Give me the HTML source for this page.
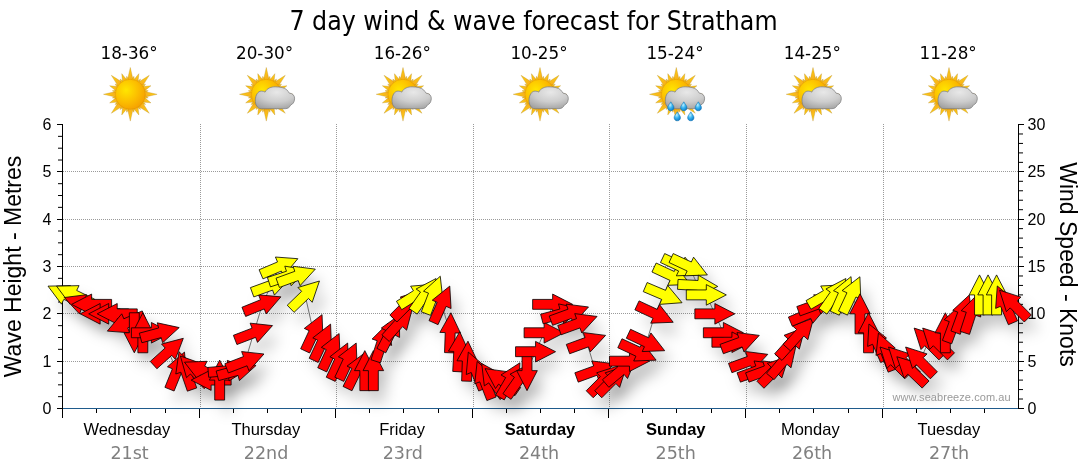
<!DOCTYPE html><html><head><meta charset="utf-8"><title>7 day wind &amp; wave forecast for Stratham</title>
<style>html,body{margin:0;padding:0;background:#fff;width:1080px;height:475px;overflow:hidden}svg{display:block}.t{font-family:"DejaVu Sans",sans-serif}.a{font-family:"Liberation Sans",Arial,sans-serif}</style></head><body>
<svg width="1080" height="475" viewBox="0 0 1080 475">
<defs>
<radialGradient id="sunG" cx="0.36" cy="0.36" r="0.78">
 <stop offset="0" stop-color="#ffe600"/><stop offset="0.5" stop-color="#fcbf00"/><stop offset="1" stop-color="#f39800"/>
</radialGradient>
<linearGradient id="rayG" x1="0" y1="0" x2="0.3" y2="1">
 <stop offset="0" stop-color="#ffd814"/><stop offset="1" stop-color="#f5a81c"/>
</linearGradient>
<radialGradient id="cloudG" cx="0.55" cy="0.25" r="0.8">
 <stop offset="0" stop-color="#e8e8e8"/><stop offset="0.55" stop-color="#cdcdcd"/><stop offset="1" stop-color="#a2a2a2"/>
</radialGradient>
<radialGradient id="dropG" cx="0.4" cy="0.35" r="0.7">
 <stop offset="0" stop-color="#bff0ff"/><stop offset="0.5" stop-color="#36b4f0"/><stop offset="1" stop-color="#0b78c8"/>
</radialGradient>
<filter id="shadow" x="-10%" y="-30%" width="120%" height="160%"><feGaussianBlur stdDeviation="7"/></filter>
</defs>
<g stroke="#9a9a9a" stroke-width="1" stroke-dasharray="1 1" fill="none"><line x1="63" y1="361.5" x2="1018" y2="361.5"/><line x1="63" y1="313.5" x2="1018" y2="313.5"/><line x1="63" y1="266.5" x2="1018" y2="266.5"/><line x1="63" y1="219.5" x2="1018" y2="219.5"/><line x1="63" y1="171.5" x2="1018" y2="171.5"/><line x1="200.5" y1="124" x2="200.5" y2="408"/><line x1="336.5" y1="124" x2="336.5" y2="408"/><line x1="473.5" y1="124" x2="473.5" y2="408"/><line x1="609.5" y1="124" x2="609.5" y2="408"/><line x1="746.5" y1="124" x2="746.5" y2="408"/><line x1="883.5" y1="124" x2="883.5" y2="408"/></g>
<g stroke-width="1"><line x1="62.5" y1="124" x2="62.5" y2="418" stroke="#000"/><line x1="1018.5" y1="124" x2="1018.5" y2="409" stroke="#000"/><line x1="63" y1="408.5" x2="1018" y2="408.5" stroke="#1f5b8c"/><line x1="57" y1="408.5" x2="62" y2="408.5" stroke="#000"/><line x1="58" y1="396.67" x2="62" y2="396.67" stroke="#000"/><line x1="58" y1="384.83" x2="62" y2="384.83" stroke="#000"/><line x1="58" y1="373.0" x2="62" y2="373.0" stroke="#000"/><line x1="57" y1="361.5" x2="62" y2="361.5" stroke="#000"/><line x1="58" y1="349.34" x2="62" y2="349.34" stroke="#000"/><line x1="58" y1="337.5" x2="62" y2="337.5" stroke="#000"/><line x1="58" y1="325.67" x2="62" y2="325.67" stroke="#000"/><line x1="57" y1="313.5" x2="62" y2="313.5" stroke="#000"/><line x1="58" y1="302.01" x2="62" y2="302.01" stroke="#000"/><line x1="58" y1="290.18" x2="62" y2="290.18" stroke="#000"/><line x1="58" y1="278.34" x2="62" y2="278.34" stroke="#000"/><line x1="57" y1="266.5" x2="62" y2="266.5" stroke="#000"/><line x1="58" y1="254.68" x2="62" y2="254.68" stroke="#000"/><line x1="58" y1="242.84" x2="62" y2="242.84" stroke="#000"/><line x1="58" y1="231.01" x2="62" y2="231.01" stroke="#000"/><line x1="57" y1="219.5" x2="62" y2="219.5" stroke="#000"/><line x1="58" y1="207.35" x2="62" y2="207.35" stroke="#000"/><line x1="58" y1="195.52" x2="62" y2="195.52" stroke="#000"/><line x1="58" y1="183.68" x2="62" y2="183.68" stroke="#000"/><line x1="57" y1="171.5" x2="62" y2="171.5" stroke="#000"/><line x1="58" y1="160.02" x2="62" y2="160.02" stroke="#000"/><line x1="58" y1="148.19" x2="62" y2="148.19" stroke="#000"/><line x1="58" y1="136.35" x2="62" y2="136.35" stroke="#000"/><line x1="57" y1="124.5" x2="62" y2="124.5" stroke="#000"/><line x1="1019" y1="408.5" x2="1024" y2="408.5" stroke="#000"/><line x1="1019" y1="399.03" x2="1023" y2="399.03" stroke="#000"/><line x1="1019" y1="389.57" x2="1023" y2="389.57" stroke="#000"/><line x1="1019" y1="380.1" x2="1023" y2="380.1" stroke="#000"/><line x1="1019" y1="370.63" x2="1023" y2="370.63" stroke="#000"/><line x1="1019" y1="361.5" x2="1024" y2="361.5" stroke="#000"/><line x1="1019" y1="351.7" x2="1023" y2="351.7" stroke="#000"/><line x1="1019" y1="342.23" x2="1023" y2="342.23" stroke="#000"/><line x1="1019" y1="332.77" x2="1023" y2="332.77" stroke="#000"/><line x1="1019" y1="323.3" x2="1023" y2="323.3" stroke="#000"/><line x1="1019" y1="313.5" x2="1024" y2="313.5" stroke="#000"/><line x1="1019" y1="304.37" x2="1023" y2="304.37" stroke="#000"/><line x1="1019" y1="294.9" x2="1023" y2="294.9" stroke="#000"/><line x1="1019" y1="285.43" x2="1023" y2="285.43" stroke="#000"/><line x1="1019" y1="275.97" x2="1023" y2="275.97" stroke="#000"/><line x1="1019" y1="266.5" x2="1024" y2="266.5" stroke="#000"/><line x1="1019" y1="257.03" x2="1023" y2="257.03" stroke="#000"/><line x1="1019" y1="247.57" x2="1023" y2="247.57" stroke="#000"/><line x1="1019" y1="238.1" x2="1023" y2="238.1" stroke="#000"/><line x1="1019" y1="228.63" x2="1023" y2="228.63" stroke="#000"/><line x1="1019" y1="219.5" x2="1024" y2="219.5" stroke="#000"/><line x1="1019" y1="209.7" x2="1023" y2="209.7" stroke="#000"/><line x1="1019" y1="200.23" x2="1023" y2="200.23" stroke="#000"/><line x1="1019" y1="190.77" x2="1023" y2="190.77" stroke="#000"/><line x1="1019" y1="181.3" x2="1023" y2="181.3" stroke="#000"/><line x1="1019" y1="171.5" x2="1024" y2="171.5" stroke="#000"/><line x1="1019" y1="162.37" x2="1023" y2="162.37" stroke="#000"/><line x1="1019" y1="152.9" x2="1023" y2="152.9" stroke="#000"/><line x1="1019" y1="143.43" x2="1023" y2="143.43" stroke="#000"/><line x1="1019" y1="133.97" x2="1023" y2="133.97" stroke="#000"/><line x1="1019" y1="124.5" x2="1024" y2="124.5" stroke="#000"/><line x1="96.5" y1="409" x2="96.5" y2="413" stroke="#000"/><line x1="130.5" y1="409" x2="130.5" y2="413" stroke="#000"/><line x1="165.5" y1="409" x2="165.5" y2="413" stroke="#000"/><line x1="199.5" y1="409" x2="199.5" y2="418" stroke="#000"/><line x1="233.5" y1="409" x2="233.5" y2="413" stroke="#000"/><line x1="267.5" y1="409" x2="267.5" y2="413" stroke="#000"/><line x1="301.5" y1="409" x2="301.5" y2="413" stroke="#000"/><line x1="335.5" y1="409" x2="335.5" y2="418" stroke="#000"/><line x1="369.5" y1="409" x2="369.5" y2="413" stroke="#000"/><line x1="403.5" y1="409" x2="403.5" y2="413" stroke="#000"/><line x1="438.5" y1="409" x2="438.5" y2="413" stroke="#000"/><line x1="472.5" y1="409" x2="472.5" y2="418" stroke="#000"/><line x1="506.5" y1="409" x2="506.5" y2="413" stroke="#000"/><line x1="540.5" y1="409" x2="540.5" y2="413" stroke="#000"/><line x1="574.5" y1="409" x2="574.5" y2="413" stroke="#000"/><line x1="608.5" y1="409" x2="608.5" y2="418" stroke="#000"/><line x1="642.5" y1="409" x2="642.5" y2="413" stroke="#000"/><line x1="676.5" y1="409" x2="676.5" y2="413" stroke="#000"/><line x1="711.5" y1="409" x2="711.5" y2="413" stroke="#000"/><line x1="745.5" y1="409" x2="745.5" y2="418" stroke="#000"/><line x1="779.5" y1="409" x2="779.5" y2="413" stroke="#000"/><line x1="813.5" y1="409" x2="813.5" y2="413" stroke="#000"/><line x1="848.5" y1="409" x2="848.5" y2="413" stroke="#000"/><line x1="882.5" y1="409" x2="882.5" y2="418" stroke="#000"/><line x1="916.5" y1="409" x2="916.5" y2="413" stroke="#000"/><line x1="950.5" y1="409" x2="950.5" y2="413" stroke="#000"/><line x1="984.5" y1="409" x2="984.5" y2="413" stroke="#000"/></g>
<g filter="url(#shadow)" transform="translate(8,12)" fill="#000" fill-opacity="0.17"><polygon points="81.81,308.12 63.83,299.35 61.48,304.16 48.02,286.13 70.52,285.64 68.17,290.45 86.15,299.22"/><polygon points="90.34,308.12 72.37,299.35 70.02,304.16 56.56,286.13 79.05,285.64 76.71,290.45 94.68,299.22"/><polygon points="100.18,315.86 81.38,309.02 79.55,314.05 64.28,297.53 86.60,294.69 84.77,299.72 103.56,306.56"/><polygon points="111.61,309.32 91.61,309.32 91.61,314.67 71.61,304.37 91.61,294.07 91.61,299.42 111.61,299.42"/><polygon points="120.15,318.78 100.15,318.78 100.15,324.13 80.15,313.83 100.15,303.53 100.15,308.88 120.15,308.88"/><polygon points="128.69,318.78 108.69,318.78 108.69,324.13 88.69,313.83 108.69,303.53 108.69,308.88 128.69,308.88"/><polygon points="137.22,318.78 117.22,318.78 117.22,324.13 97.22,313.83 117.22,303.53 117.22,308.88 137.22,308.88"/><polygon points="146.11,320.04 127.70,327.86 129.79,332.78 107.35,331.11 121.74,313.82 123.83,318.74 142.24,310.93"/><polygon points="139.25,312.77 139.25,332.77 144.60,332.77 134.30,352.77 124.00,332.77 129.35,332.77 129.35,312.77"/><polygon points="137.89,352.77 137.89,332.77 132.54,332.77 142.84,312.77 153.14,332.77 147.79,332.77 147.79,352.77"/><polygon points="131.38,327.82 151.38,327.82 151.38,322.47 171.38,332.77 151.38,343.07 151.38,337.72 131.38,337.72"/><polygon points="139.31,333.16 158.63,327.99 157.25,322.82 179.23,327.59 162.58,342.72 161.19,337.55 141.88,342.72"/><polygon points="150.27,361.40 165.14,348.02 161.56,344.05 183.31,338.32 175.34,359.35 171.76,355.38 156.90,368.76"/><polygon points="164.91,387.32 172.40,368.78 167.44,366.77 184.48,352.09 186.54,374.49 181.58,372.49 174.08,391.03"/><polygon points="187.36,391.16 180.84,372.24 175.79,373.99 179.01,351.72 195.26,367.28 190.21,369.02 196.72,387.93"/><polygon points="204.08,388.64 190.44,374.01 186.53,377.66 180.42,356.01 201.60,363.61 197.68,367.26 211.32,381.88"/><polygon points="218.63,383.57 200.51,375.12 198.25,379.97 184.47,362.18 206.95,361.30 204.69,366.15 222.82,374.60"/><polygon points="231.14,385.05 211.14,385.05 211.14,390.40 191.14,380.10 211.14,369.80 211.14,375.15 231.14,375.15"/><polygon points="214.72,400.10 214.72,380.10 209.37,380.10 219.67,360.10 229.97,380.10 224.62,380.10 224.62,400.10"/><polygon points="207.86,367.45 227.78,365.70 227.31,360.37 248.14,368.89 229.11,380.89 228.64,375.56 208.72,377.31"/><polygon points="216.15,371.03 235.47,365.85 234.08,360.68 256.07,365.46 239.42,380.58 238.03,375.41 218.71,380.59"/><polygon points="224.84,363.71 243.51,356.55 241.60,351.55 263.96,354.00 248.98,370.78 247.06,365.79 228.39,372.96"/><polygon points="233.38,335.31 252.05,328.15 250.13,323.15 272.50,325.60 257.52,342.38 255.60,337.39 236.93,344.56"/><polygon points="241.96,307.27 260.51,299.78 258.50,294.82 280.91,296.87 266.22,313.92 264.22,308.96 245.67,316.45"/><polygon points="250.41,287.62 269.21,280.78 267.38,275.75 289.69,278.59 274.42,295.11 272.59,290.08 253.80,296.93"/><polygon points="259.09,269.76 277.50,261.94 275.41,257.02 297.85,258.69 283.46,275.98 281.37,271.06 262.96,278.87"/><polygon points="267.42,277.44 286.45,271.26 284.79,266.17 307.00,269.79 291.16,285.76 289.50,280.67 270.48,286.85"/><polygon points="276.03,278.16 294.82,271.32 292.99,266.29 315.31,269.13 300.04,285.65 298.21,280.62 279.41,287.46"/><polygon points="287.22,305.23 301.61,291.34 297.90,287.49 319.44,281.01 312.20,302.31 308.49,298.46 294.10,312.35"/><polygon points="300.65,348.80 309.10,330.67 304.25,328.41 322.04,314.64 322.92,337.12 318.07,334.86 309.62,352.98"/><polygon points="309.19,358.27 317.64,340.14 312.79,337.88 330.58,324.11 331.46,346.59 326.61,344.33 318.16,362.45"/><polygon points="317.72,367.73 326.18,349.61 321.33,347.35 339.11,333.57 340.00,356.05 335.15,353.79 326.70,371.92"/><polygon points="326.26,377.20 334.71,359.07 329.87,356.81 347.65,343.04 348.53,365.52 343.69,363.26 335.23,381.38"/><polygon points="334.80,377.20 343.25,359.07 338.40,356.81 356.19,343.04 357.07,365.52 352.22,363.26 343.77,381.38"/><polygon points="343.06,386.44 351.83,368.46 347.02,366.12 365.04,352.66 365.53,375.15 360.72,372.80 351.96,390.78"/><polygon points="359.86,390.63 359.86,370.63 354.51,370.63 364.81,350.63 375.11,370.63 369.76,370.63 369.76,390.63"/><polygon points="368.40,390.63 368.40,370.63 363.05,370.63 373.35,350.63 383.65,370.63 378.30,370.63 378.30,390.63"/><polygon points="371.00,359.72 377.18,340.70 372.09,339.05 388.07,323.21 391.68,345.42 386.60,343.76 380.41,362.78"/><polygon points="376.93,348.34 386.01,330.52 381.25,328.09 399.50,314.95 399.60,337.44 394.84,335.01 385.76,352.83"/><polygon points="381.90,334.85 395.28,319.99 391.31,316.41 412.35,308.44 406.62,330.19 402.64,326.61 389.26,341.48"/><polygon points="389.86,315.01 404.00,300.87 400.22,297.08 421.64,290.22 414.78,311.65 411.00,307.87 396.86,322.01"/><polygon points="396.45,301.30 413.41,290.70 410.58,286.17 433.00,284.30 421.50,303.63 418.66,299.10 401.70,309.70"/><polygon points="409.05,308.44 420.52,292.06 416.14,288.99 436.05,278.52 433.01,300.81 428.63,297.74 417.16,314.12"/><polygon points="421.32,311.80 428.49,293.13 423.50,291.21 440.28,276.23 442.73,298.59 437.73,296.67 430.57,315.35"/><polygon points="428.99,320.62 437.13,302.35 432.24,300.18 449.78,286.10 451.06,308.56 446.17,306.38 438.04,324.65"/><polygon points="444.54,352.58 445.24,332.59 439.89,332.41 450.89,312.78 460.48,333.13 455.13,332.94 454.44,352.93"/><polygon points="452.74,371.41 453.78,351.44 448.44,351.16 459.77,331.73 469.01,352.24 463.67,351.96 462.62,371.93"/><polygon points="461.62,380.98 462.32,360.99 456.97,360.81 467.96,341.18 477.56,361.53 472.21,361.34 471.51,381.33"/><polygon points="478.70,391.03 471.21,372.49 466.25,374.49 468.31,352.09 485.35,366.77 480.39,368.78 487.88,387.32"/><polygon points="486.88,400.55 479.72,381.87 474.72,383.79 477.17,361.43 493.95,376.41 488.96,378.33 496.13,397.00"/><polygon points="499.96,399.45 488.77,382.87 484.34,385.86 481.69,363.52 501.41,374.34 496.98,377.33 508.16,393.91"/><polygon points="514.96,395.63 498.57,384.15 495.50,388.54 485.03,368.63 507.32,371.66 504.25,376.05 520.63,387.52"/><polygon points="495.66,394.95 505.66,377.62 501.03,374.95 519.95,362.78 518.87,385.25 514.24,382.58 504.24,399.90"/><polygon points="502.96,393.64 514.43,377.26 510.05,374.19 529.96,363.72 526.92,386.01 522.54,382.94 511.07,399.32"/><polygon points="531.98,350.63 531.98,370.63 537.32,370.63 527.02,390.63 516.73,370.63 522.07,370.63 522.07,350.63"/><polygon points="515.56,346.75 535.56,346.75 535.56,341.40 555.56,351.70 535.56,362.00 535.56,356.65 515.56,356.65"/><polygon points="524.10,327.82 544.10,327.82 544.10,322.47 564.10,332.77 544.10,343.07 544.10,337.72 524.10,337.72"/><polygon points="532.64,299.42 552.64,299.42 552.64,294.07 572.64,304.37 552.64,314.67 552.64,309.32 532.64,309.32"/><polygon points="540.58,314.23 559.89,309.05 558.51,303.88 580.49,308.66 563.84,323.78 562.46,318.61 543.14,323.79"/><polygon points="549.23,316.02 568.02,309.18 566.19,304.15 588.51,306.99 573.24,323.51 571.41,318.48 552.61,325.33"/><polygon points="557.76,325.49 576.56,318.65 574.73,313.62 597.04,316.46 581.77,332.98 579.94,327.95 561.15,334.79"/><polygon points="566.30,344.42 585.09,337.58 583.26,332.55 605.58,335.39 590.31,351.91 588.48,346.88 569.69,353.73"/><polygon points="574.84,372.82 593.63,365.98 591.80,360.95 614.12,363.79 598.85,380.31 597.02,375.28 578.22,382.13"/><polygon points="586.22,390.74 600.36,376.60 596.58,372.82 618.00,365.96 611.15,387.38 607.36,383.60 593.22,397.74"/><polygon points="594.76,390.74 608.90,376.60 605.12,372.82 626.54,365.96 619.68,387.38 615.90,383.60 601.76,397.74"/><polygon points="602.43,379.70 617.76,366.84 614.32,362.74 636.26,357.78 627.56,378.52 624.12,374.43 608.80,387.28"/><polygon points="609.48,356.22 629.48,356.22 629.48,350.87 649.48,361.17 629.48,371.47 629.48,366.12 609.48,366.12"/><polygon points="621.98,338.76 640.10,347.21 642.37,342.37 656.14,360.15 633.66,361.03 635.92,356.19 617.79,347.73"/><polygon points="630.52,329.29 648.64,337.75 650.90,332.90 664.68,350.69 642.20,351.57 644.46,346.72 626.33,338.27"/><polygon points="639.05,300.89 657.18,309.35 659.44,304.50 673.21,322.29 650.73,323.17 653.00,318.32 634.87,309.87"/><polygon points="647.15,282.53 665.56,290.34 667.65,285.42 682.04,302.71 659.60,304.38 661.69,299.46 643.28,291.64"/><polygon points="656.13,263.03 674.25,271.48 676.52,266.63 690.29,284.42 667.81,285.30 670.07,280.45 651.94,272.00"/><polygon points="664.67,253.56 682.79,262.01 685.05,257.17 698.83,274.95 676.35,275.83 678.61,270.99 660.48,262.53"/><polygon points="673.20,253.56 691.33,262.01 693.59,257.17 707.36,274.95 684.88,275.83 687.15,270.99 669.02,262.53"/><polygon points="678.06,279.44 698.03,280.49 698.31,275.15 717.75,286.48 697.24,295.72 697.52,290.38 677.54,289.33"/><polygon points="686.31,289.95 706.31,289.95 706.31,284.60 726.31,294.90 706.31,305.20 706.31,299.85 686.31,299.85"/><polygon points="694.85,308.88 714.85,308.88 714.85,303.53 734.85,313.83 714.85,324.13 714.85,318.78 694.85,318.78"/><polygon points="703.39,327.82 723.39,327.82 723.39,322.47 743.39,332.77 723.39,343.07 723.39,337.72 703.39,337.72"/><polygon points="711.92,337.28 731.92,337.28 731.92,331.93 751.92,342.23 731.92,352.53 731.92,347.18 711.92,347.18"/><polygon points="719.98,344.42 738.77,337.58 736.94,332.55 759.26,335.39 743.99,351.91 742.16,346.88 723.36,353.73"/><polygon points="728.51,363.36 747.31,356.52 745.48,351.49 767.79,354.33 752.52,370.85 750.69,365.82 731.90,372.66"/><polygon points="737.05,372.82 755.84,365.98 754.01,360.95 776.33,363.79 761.06,380.31 759.23,375.28 740.44,382.13"/><polygon points="745.59,372.82 764.38,365.98 762.55,360.95 784.87,363.79 769.60,380.31 767.77,375.28 748.97,382.13"/><polygon points="756.97,381.28 771.11,367.13 767.33,363.35 788.75,356.49 781.90,377.92 778.11,374.13 763.97,388.28"/><polygon points="766.50,373.31 779.36,357.98 775.26,354.55 796.01,345.85 791.04,367.79 786.94,364.35 774.09,379.67"/><polygon points="774.63,353.78 788.01,338.92 784.03,335.34 805.07,327.37 799.34,349.13 795.37,345.55 781.98,360.41"/><polygon points="783.16,344.32 796.55,329.45 792.57,325.87 813.61,317.90 807.88,339.66 803.90,336.08 790.52,350.94"/><polygon points="788.42,317.09 806.83,309.28 804.74,304.35 827.17,306.02 812.79,323.31 810.70,318.39 792.29,326.20"/><polygon points="796.81,306.56 815.61,299.72 813.78,294.69 836.09,297.53 820.82,314.05 818.99,309.02 800.20,315.86"/><polygon points="806.04,300.61 823.36,290.61 820.69,285.98 843.16,284.90 830.99,303.82 828.31,299.19 810.99,309.19"/><polygon points="818.85,308.44 830.32,292.06 825.94,288.99 845.85,278.52 842.81,300.81 838.43,297.74 826.96,314.12"/><polygon points="830.26,311.16 838.39,292.89 833.50,290.71 851.05,276.63 852.32,299.09 847.43,296.91 839.30,315.18"/><polygon points="838.51,310.93 846.96,292.81 842.12,290.55 859.90,276.77 860.78,299.25 855.94,296.99 847.48,315.12"/><polygon points="855.04,333.83 855.04,313.83 849.69,313.83 859.99,293.83 870.29,313.83 864.94,313.83 864.94,333.83"/><polygon points="863.57,352.77 863.57,332.77 858.23,332.77 868.52,312.77 878.82,332.77 873.48,332.77 873.48,352.77"/><polygon points="880.68,362.52 872.54,344.25 867.65,346.42 868.93,323.96 886.47,338.04 881.58,340.22 889.72,358.49"/><polygon points="888.15,372.15 880.98,353.47 875.98,355.39 878.43,333.03 895.22,348.01 890.22,349.93 897.39,368.60"/><polygon points="904.78,378.81 890.64,364.67 886.85,368.45 880.00,347.02 901.42,353.88 897.64,357.67 911.78,371.81"/><polygon points="913.32,378.81 899.17,364.67 895.39,368.45 888.53,347.02 909.96,353.88 906.18,357.67 920.32,371.81"/><polygon points="922.16,388.09 907.77,374.19 904.06,378.04 896.83,356.74 918.37,363.22 914.65,367.07 929.04,380.97"/><polygon points="930.39,378.81 916.25,364.67 912.47,368.45 905.61,347.02 927.03,353.88 923.25,357.67 937.39,371.81"/><polygon points="938.93,359.88 924.79,345.73 921.00,349.52 914.15,328.09 935.57,334.95 931.79,338.73 945.93,352.88"/><polygon points="947.47,359.88 933.32,345.73 929.54,349.52 922.68,328.09 944.11,334.95 940.33,338.73 954.47,352.88"/><polygon points="940.41,352.77 940.41,332.77 935.06,332.77 945.36,312.77 955.66,332.77 950.31,332.77 950.31,352.77"/><polygon points="942.41,340.40 949.25,321.61 944.22,319.78 960.74,304.51 963.58,326.82 958.55,324.99 951.71,343.79"/><polygon points="950.95,330.93 957.79,312.14 952.76,310.31 969.28,295.04 972.12,317.36 967.09,315.53 960.25,334.32"/><polygon points="960.09,331.32 966.27,312.30 961.18,310.65 977.16,294.81 980.77,317.02 975.68,315.36 969.50,334.38"/><polygon points="974.56,314.90 974.56,294.90 969.21,294.90 979.51,274.90 989.81,294.90 984.46,294.90 984.46,314.90"/><polygon points="983.10,314.90 983.10,294.90 977.75,294.90 988.05,274.90 998.35,294.90 993.00,294.90 993.00,314.90"/><polygon points="991.64,314.90 991.64,294.90 986.29,294.90 996.59,274.90 1006.89,294.90 1001.54,294.90 1001.54,314.90"/><polygon points="1008.38,324.71 1000.57,306.30 995.64,308.39 997.31,285.96 1014.61,300.34 1009.68,302.43 1017.50,320.84"/><polygon points="1024.30,322.01 1010.16,307.87 1006.38,311.65 999.52,290.22 1020.95,297.08 1017.16,300.87 1031.30,315.01"/></g>
<polyline fill="none" stroke="#707070" stroke-width="1" points="66.00,294.90 74.54,294.90 83.08,304.37 91.61,304.37 100.15,313.83 108.69,313.83 117.22,313.83 125.76,323.30 134.30,332.77 142.84,332.77 151.38,332.77 159.91,332.77 168.45,351.70 176.99,370.63 185.52,370.63 194.06,370.63 202.60,370.63 211.14,380.10 219.67,380.10 228.21,370.63 236.75,370.63 245.29,361.17 253.82,332.77 262.36,304.37 270.90,285.43 279.44,266.50 287.98,275.97 296.51,275.97 305.05,294.90 313.59,332.77 322.12,342.23 330.66,351.70 339.20,361.17 347.74,361.17 356.27,370.63 364.81,370.63 373.35,370.63 381.89,342.23 390.43,332.77 398.96,323.30 407.50,304.37 416.04,294.90 424.57,294.90 433.11,294.90 441.65,304.37 450.19,332.77 458.72,351.70 467.26,361.17 475.80,370.63 484.34,380.10 492.88,380.10 501.41,380.10 509.95,380.10 518.49,380.10 527.02,370.63 535.56,351.70 544.10,332.77 552.64,304.37 561.17,313.83 569.71,313.83 578.25,323.30 586.79,342.23 595.32,370.63 603.86,380.10 612.40,380.10 620.94,370.63 629.48,361.17 638.01,351.70 646.55,342.23 655.09,313.83 663.62,294.90 672.16,275.97 680.70,266.50 689.24,266.50 697.77,285.43 706.31,294.90 714.85,313.83 723.39,332.77 731.92,342.23 740.46,342.23 749.00,361.17 757.54,370.63 766.07,370.63 774.61,370.63 783.15,361.17 791.69,342.23 800.23,332.77 808.76,313.83 817.30,304.37 825.84,294.90 834.38,294.90 842.91,294.90 851.45,294.90 859.99,313.83 868.52,332.77 877.06,342.23 885.60,351.70 894.14,361.17 902.67,361.17 911.21,370.63 919.75,361.17 928.29,342.23 936.82,342.23 945.36,332.77 953.90,323.30 962.44,313.83 970.97,313.83 979.51,294.90 988.05,294.90 996.59,294.90 1005.12,304.37 1013.66,304.37"/>
<g stroke="#000" stroke-width="0.8" stroke-linejoin="miter"><polygon points="81.81,308.12 63.83,299.35 61.48,304.16 48.02,286.13 70.52,285.64 68.17,290.45 86.15,299.22" fill="#ffff00"/><polygon points="90.34,308.12 72.37,299.35 70.02,304.16 56.56,286.13 79.05,285.64 76.71,290.45 94.68,299.22" fill="#ffff00"/><polygon points="100.18,315.86 81.38,309.02 79.55,314.05 64.28,297.53 86.60,294.69 84.77,299.72 103.56,306.56" fill="#ff0000"/><polygon points="111.61,309.32 91.61,309.32 91.61,314.67 71.61,304.37 91.61,294.07 91.61,299.42 111.61,299.42" fill="#ff0000"/><polygon points="120.15,318.78 100.15,318.78 100.15,324.13 80.15,313.83 100.15,303.53 100.15,308.88 120.15,308.88" fill="#ff0000"/><polygon points="128.69,318.78 108.69,318.78 108.69,324.13 88.69,313.83 108.69,303.53 108.69,308.88 128.69,308.88" fill="#ff0000"/><polygon points="137.22,318.78 117.22,318.78 117.22,324.13 97.22,313.83 117.22,303.53 117.22,308.88 137.22,308.88" fill="#ff0000"/><polygon points="146.11,320.04 127.70,327.86 129.79,332.78 107.35,331.11 121.74,313.82 123.83,318.74 142.24,310.93" fill="#ff0000"/><polygon points="139.25,312.77 139.25,332.77 144.60,332.77 134.30,352.77 124.00,332.77 129.35,332.77 129.35,312.77" fill="#ff0000"/><polygon points="137.89,352.77 137.89,332.77 132.54,332.77 142.84,312.77 153.14,332.77 147.79,332.77 147.79,352.77" fill="#ff0000"/><polygon points="131.38,327.82 151.38,327.82 151.38,322.47 171.38,332.77 151.38,343.07 151.38,337.72 131.38,337.72" fill="#ff0000"/><polygon points="139.31,333.16 158.63,327.99 157.25,322.82 179.23,327.59 162.58,342.72 161.19,337.55 141.88,342.72" fill="#ff0000"/><polygon points="150.27,361.40 165.14,348.02 161.56,344.05 183.31,338.32 175.34,359.35 171.76,355.38 156.90,368.76" fill="#ff0000"/><polygon points="164.91,387.32 172.40,368.78 167.44,366.77 184.48,352.09 186.54,374.49 181.58,372.49 174.08,391.03" fill="#ff0000"/><polygon points="187.36,391.16 180.84,372.24 175.79,373.99 179.01,351.72 195.26,367.28 190.21,369.02 196.72,387.93" fill="#ff0000"/><polygon points="204.08,388.64 190.44,374.01 186.53,377.66 180.42,356.01 201.60,363.61 197.68,367.26 211.32,381.88" fill="#ff0000"/><polygon points="218.63,383.57 200.51,375.12 198.25,379.97 184.47,362.18 206.95,361.30 204.69,366.15 222.82,374.60" fill="#ff0000"/><polygon points="231.14,385.05 211.14,385.05 211.14,390.40 191.14,380.10 211.14,369.80 211.14,375.15 231.14,375.15" fill="#ff0000"/><polygon points="214.72,400.10 214.72,380.10 209.37,380.10 219.67,360.10 229.97,380.10 224.62,380.10 224.62,400.10" fill="#ff0000"/><polygon points="207.86,367.45 227.78,365.70 227.31,360.37 248.14,368.89 229.11,380.89 228.64,375.56 208.72,377.31" fill="#ff0000"/><polygon points="216.15,371.03 235.47,365.85 234.08,360.68 256.07,365.46 239.42,380.58 238.03,375.41 218.71,380.59" fill="#ff0000"/><polygon points="224.84,363.71 243.51,356.55 241.60,351.55 263.96,354.00 248.98,370.78 247.06,365.79 228.39,372.96" fill="#ff0000"/><polygon points="233.38,335.31 252.05,328.15 250.13,323.15 272.50,325.60 257.52,342.38 255.60,337.39 236.93,344.56" fill="#ff0000"/><polygon points="241.96,307.27 260.51,299.78 258.50,294.82 280.91,296.87 266.22,313.92 264.22,308.96 245.67,316.45" fill="#ff0000"/><polygon points="250.41,287.62 269.21,280.78 267.38,275.75 289.69,278.59 274.42,295.11 272.59,290.08 253.80,296.93" fill="#ffff00"/><polygon points="259.09,269.76 277.50,261.94 275.41,257.02 297.85,258.69 283.46,275.98 281.37,271.06 262.96,278.87" fill="#ffff00"/><polygon points="267.42,277.44 286.45,271.26 284.79,266.17 307.00,269.79 291.16,285.76 289.50,280.67 270.48,286.85" fill="#ffff00"/><polygon points="276.03,278.16 294.82,271.32 292.99,266.29 315.31,269.13 300.04,285.65 298.21,280.62 279.41,287.46" fill="#ffff00"/><polygon points="287.22,305.23 301.61,291.34 297.90,287.49 319.44,281.01 312.20,302.31 308.49,298.46 294.10,312.35" fill="#ffff00"/><polygon points="300.65,348.80 309.10,330.67 304.25,328.41 322.04,314.64 322.92,337.12 318.07,334.86 309.62,352.98" fill="#ff0000"/><polygon points="309.19,358.27 317.64,340.14 312.79,337.88 330.58,324.11 331.46,346.59 326.61,344.33 318.16,362.45" fill="#ff0000"/><polygon points="317.72,367.73 326.18,349.61 321.33,347.35 339.11,333.57 340.00,356.05 335.15,353.79 326.70,371.92" fill="#ff0000"/><polygon points="326.26,377.20 334.71,359.07 329.87,356.81 347.65,343.04 348.53,365.52 343.69,363.26 335.23,381.38" fill="#ff0000"/><polygon points="334.80,377.20 343.25,359.07 338.40,356.81 356.19,343.04 357.07,365.52 352.22,363.26 343.77,381.38" fill="#ff0000"/><polygon points="343.06,386.44 351.83,368.46 347.02,366.12 365.04,352.66 365.53,375.15 360.72,372.80 351.96,390.78" fill="#ff0000"/><polygon points="359.86,390.63 359.86,370.63 354.51,370.63 364.81,350.63 375.11,370.63 369.76,370.63 369.76,390.63" fill="#ff0000"/><polygon points="368.40,390.63 368.40,370.63 363.05,370.63 373.35,350.63 383.65,370.63 378.30,370.63 378.30,390.63" fill="#ff0000"/><polygon points="371.00,359.72 377.18,340.70 372.09,339.05 388.07,323.21 391.68,345.42 386.60,343.76 380.41,362.78" fill="#ff0000"/><polygon points="376.93,348.34 386.01,330.52 381.25,328.09 399.50,314.95 399.60,337.44 394.84,335.01 385.76,352.83" fill="#ff0000"/><polygon points="381.90,334.85 395.28,319.99 391.31,316.41 412.35,308.44 406.62,330.19 402.64,326.61 389.26,341.48" fill="#ff0000"/><polygon points="389.86,315.01 404.00,300.87 400.22,297.08 421.64,290.22 414.78,311.65 411.00,307.87 396.86,322.01" fill="#ff0000"/><polygon points="396.45,301.30 413.41,290.70 410.58,286.17 433.00,284.30 421.50,303.63 418.66,299.10 401.70,309.70" fill="#ffff00"/><polygon points="409.05,308.44 420.52,292.06 416.14,288.99 436.05,278.52 433.01,300.81 428.63,297.74 417.16,314.12" fill="#ffff00"/><polygon points="421.32,311.80 428.49,293.13 423.50,291.21 440.28,276.23 442.73,298.59 437.73,296.67 430.57,315.35" fill="#ffff00"/><polygon points="428.99,320.62 437.13,302.35 432.24,300.18 449.78,286.10 451.06,308.56 446.17,306.38 438.04,324.65" fill="#ff0000"/><polygon points="444.54,352.58 445.24,332.59 439.89,332.41 450.89,312.78 460.48,333.13 455.13,332.94 454.44,352.93" fill="#ff0000"/><polygon points="452.74,371.41 453.78,351.44 448.44,351.16 459.77,331.73 469.01,352.24 463.67,351.96 462.62,371.93" fill="#ff0000"/><polygon points="461.62,380.98 462.32,360.99 456.97,360.81 467.96,341.18 477.56,361.53 472.21,361.34 471.51,381.33" fill="#ff0000"/><polygon points="478.70,391.03 471.21,372.49 466.25,374.49 468.31,352.09 485.35,366.77 480.39,368.78 487.88,387.32" fill="#ff0000"/><polygon points="486.88,400.55 479.72,381.87 474.72,383.79 477.17,361.43 493.95,376.41 488.96,378.33 496.13,397.00" fill="#ff0000"/><polygon points="499.96,399.45 488.77,382.87 484.34,385.86 481.69,363.52 501.41,374.34 496.98,377.33 508.16,393.91" fill="#ff0000"/><polygon points="514.96,395.63 498.57,384.15 495.50,388.54 485.03,368.63 507.32,371.66 504.25,376.05 520.63,387.52" fill="#ff0000"/><polygon points="495.66,394.95 505.66,377.62 501.03,374.95 519.95,362.78 518.87,385.25 514.24,382.58 504.24,399.90" fill="#ff0000"/><polygon points="502.96,393.64 514.43,377.26 510.05,374.19 529.96,363.72 526.92,386.01 522.54,382.94 511.07,399.32" fill="#ff0000"/><polygon points="531.98,350.63 531.98,370.63 537.32,370.63 527.02,390.63 516.73,370.63 522.07,370.63 522.07,350.63" fill="#ff0000"/><polygon points="515.56,346.75 535.56,346.75 535.56,341.40 555.56,351.70 535.56,362.00 535.56,356.65 515.56,356.65" fill="#ff0000"/><polygon points="524.10,327.82 544.10,327.82 544.10,322.47 564.10,332.77 544.10,343.07 544.10,337.72 524.10,337.72" fill="#ff0000"/><polygon points="532.64,299.42 552.64,299.42 552.64,294.07 572.64,304.37 552.64,314.67 552.64,309.32 532.64,309.32" fill="#ff0000"/><polygon points="540.58,314.23 559.89,309.05 558.51,303.88 580.49,308.66 563.84,323.78 562.46,318.61 543.14,323.79" fill="#ff0000"/><polygon points="549.23,316.02 568.02,309.18 566.19,304.15 588.51,306.99 573.24,323.51 571.41,318.48 552.61,325.33" fill="#ff0000"/><polygon points="557.76,325.49 576.56,318.65 574.73,313.62 597.04,316.46 581.77,332.98 579.94,327.95 561.15,334.79" fill="#ff0000"/><polygon points="566.30,344.42 585.09,337.58 583.26,332.55 605.58,335.39 590.31,351.91 588.48,346.88 569.69,353.73" fill="#ff0000"/><polygon points="574.84,372.82 593.63,365.98 591.80,360.95 614.12,363.79 598.85,380.31 597.02,375.28 578.22,382.13" fill="#ff0000"/><polygon points="586.22,390.74 600.36,376.60 596.58,372.82 618.00,365.96 611.15,387.38 607.36,383.60 593.22,397.74" fill="#ff0000"/><polygon points="594.76,390.74 608.90,376.60 605.12,372.82 626.54,365.96 619.68,387.38 615.90,383.60 601.76,397.74" fill="#ff0000"/><polygon points="602.43,379.70 617.76,366.84 614.32,362.74 636.26,357.78 627.56,378.52 624.12,374.43 608.80,387.28" fill="#ff0000"/><polygon points="609.48,356.22 629.48,356.22 629.48,350.87 649.48,361.17 629.48,371.47 629.48,366.12 609.48,366.12" fill="#ff0000"/><polygon points="621.98,338.76 640.10,347.21 642.37,342.37 656.14,360.15 633.66,361.03 635.92,356.19 617.79,347.73" fill="#ff0000"/><polygon points="630.52,329.29 648.64,337.75 650.90,332.90 664.68,350.69 642.20,351.57 644.46,346.72 626.33,338.27" fill="#ff0000"/><polygon points="639.05,300.89 657.18,309.35 659.44,304.50 673.21,322.29 650.73,323.17 653.00,318.32 634.87,309.87" fill="#ff0000"/><polygon points="647.15,282.53 665.56,290.34 667.65,285.42 682.04,302.71 659.60,304.38 661.69,299.46 643.28,291.64" fill="#ffff00"/><polygon points="656.13,263.03 674.25,271.48 676.52,266.63 690.29,284.42 667.81,285.30 670.07,280.45 651.94,272.00" fill="#ffff00"/><polygon points="664.67,253.56 682.79,262.01 685.05,257.17 698.83,274.95 676.35,275.83 678.61,270.99 660.48,262.53" fill="#ffff00"/><polygon points="673.20,253.56 691.33,262.01 693.59,257.17 707.36,274.95 684.88,275.83 687.15,270.99 669.02,262.53" fill="#ffff00"/><polygon points="678.06,279.44 698.03,280.49 698.31,275.15 717.75,286.48 697.24,295.72 697.52,290.38 677.54,289.33" fill="#ffff00"/><polygon points="686.31,289.95 706.31,289.95 706.31,284.60 726.31,294.90 706.31,305.20 706.31,299.85 686.31,299.85" fill="#ffff00"/><polygon points="694.85,308.88 714.85,308.88 714.85,303.53 734.85,313.83 714.85,324.13 714.85,318.78 694.85,318.78" fill="#ff0000"/><polygon points="703.39,327.82 723.39,327.82 723.39,322.47 743.39,332.77 723.39,343.07 723.39,337.72 703.39,337.72" fill="#ff0000"/><polygon points="711.92,337.28 731.92,337.28 731.92,331.93 751.92,342.23 731.92,352.53 731.92,347.18 711.92,347.18" fill="#ff0000"/><polygon points="719.98,344.42 738.77,337.58 736.94,332.55 759.26,335.39 743.99,351.91 742.16,346.88 723.36,353.73" fill="#ff0000"/><polygon points="728.51,363.36 747.31,356.52 745.48,351.49 767.79,354.33 752.52,370.85 750.69,365.82 731.90,372.66" fill="#ff0000"/><polygon points="737.05,372.82 755.84,365.98 754.01,360.95 776.33,363.79 761.06,380.31 759.23,375.28 740.44,382.13" fill="#ff0000"/><polygon points="745.59,372.82 764.38,365.98 762.55,360.95 784.87,363.79 769.60,380.31 767.77,375.28 748.97,382.13" fill="#ff0000"/><polygon points="756.97,381.28 771.11,367.13 767.33,363.35 788.75,356.49 781.90,377.92 778.11,374.13 763.97,388.28" fill="#ff0000"/><polygon points="766.50,373.31 779.36,357.98 775.26,354.55 796.01,345.85 791.04,367.79 786.94,364.35 774.09,379.67" fill="#ff0000"/><polygon points="774.63,353.78 788.01,338.92 784.03,335.34 805.07,327.37 799.34,349.13 795.37,345.55 781.98,360.41" fill="#ff0000"/><polygon points="783.16,344.32 796.55,329.45 792.57,325.87 813.61,317.90 807.88,339.66 803.90,336.08 790.52,350.94" fill="#ff0000"/><polygon points="788.42,317.09 806.83,309.28 804.74,304.35 827.17,306.02 812.79,323.31 810.70,318.39 792.29,326.20" fill="#ff0000"/><polygon points="796.81,306.56 815.61,299.72 813.78,294.69 836.09,297.53 820.82,314.05 818.99,309.02 800.20,315.86" fill="#ff0000"/><polygon points="806.04,300.61 823.36,290.61 820.69,285.98 843.16,284.90 830.99,303.82 828.31,299.19 810.99,309.19" fill="#ffff00"/><polygon points="818.85,308.44 830.32,292.06 825.94,288.99 845.85,278.52 842.81,300.81 838.43,297.74 826.96,314.12" fill="#ffff00"/><polygon points="830.26,311.16 838.39,292.89 833.50,290.71 851.05,276.63 852.32,299.09 847.43,296.91 839.30,315.18" fill="#ffff00"/><polygon points="838.51,310.93 846.96,292.81 842.12,290.55 859.90,276.77 860.78,299.25 855.94,296.99 847.48,315.12" fill="#ffff00"/><polygon points="855.04,333.83 855.04,313.83 849.69,313.83 859.99,293.83 870.29,313.83 864.94,313.83 864.94,333.83" fill="#ff0000"/><polygon points="863.57,352.77 863.57,332.77 858.23,332.77 868.52,312.77 878.82,332.77 873.48,332.77 873.48,352.77" fill="#ff0000"/><polygon points="880.68,362.52 872.54,344.25 867.65,346.42 868.93,323.96 886.47,338.04 881.58,340.22 889.72,358.49" fill="#ff0000"/><polygon points="888.15,372.15 880.98,353.47 875.98,355.39 878.43,333.03 895.22,348.01 890.22,349.93 897.39,368.60" fill="#ff0000"/><polygon points="904.78,378.81 890.64,364.67 886.85,368.45 880.00,347.02 901.42,353.88 897.64,357.67 911.78,371.81" fill="#ff0000"/><polygon points="913.32,378.81 899.17,364.67 895.39,368.45 888.53,347.02 909.96,353.88 906.18,357.67 920.32,371.81" fill="#ff0000"/><polygon points="922.16,388.09 907.77,374.19 904.06,378.04 896.83,356.74 918.37,363.22 914.65,367.07 929.04,380.97" fill="#ff0000"/><polygon points="930.39,378.81 916.25,364.67 912.47,368.45 905.61,347.02 927.03,353.88 923.25,357.67 937.39,371.81" fill="#ff0000"/><polygon points="938.93,359.88 924.79,345.73 921.00,349.52 914.15,328.09 935.57,334.95 931.79,338.73 945.93,352.88" fill="#ff0000"/><polygon points="947.47,359.88 933.32,345.73 929.54,349.52 922.68,328.09 944.11,334.95 940.33,338.73 954.47,352.88" fill="#ff0000"/><polygon points="940.41,352.77 940.41,332.77 935.06,332.77 945.36,312.77 955.66,332.77 950.31,332.77 950.31,352.77" fill="#ff0000"/><polygon points="942.41,340.40 949.25,321.61 944.22,319.78 960.74,304.51 963.58,326.82 958.55,324.99 951.71,343.79" fill="#ff0000"/><polygon points="950.95,330.93 957.79,312.14 952.76,310.31 969.28,295.04 972.12,317.36 967.09,315.53 960.25,334.32" fill="#ff0000"/><polygon points="960.09,331.32 966.27,312.30 961.18,310.65 977.16,294.81 980.77,317.02 975.68,315.36 969.50,334.38" fill="#ff0000"/><polygon points="974.56,314.90 974.56,294.90 969.21,294.90 979.51,274.90 989.81,294.90 984.46,294.90 984.46,314.90" fill="#ffff00"/><polygon points="983.10,314.90 983.10,294.90 977.75,294.90 988.05,274.90 998.35,294.90 993.00,294.90 993.00,314.90" fill="#ffff00"/><polygon points="991.64,314.90 991.64,294.90 986.29,294.90 996.59,274.90 1006.89,294.90 1001.54,294.90 1001.54,314.90" fill="#ffff00"/><polygon points="1008.38,324.71 1000.57,306.30 995.64,308.39 997.31,285.96 1014.61,300.34 1009.68,302.43 1017.50,320.84" fill="#ff0000"/><polygon points="1024.30,322.01 1010.16,307.87 1006.38,311.65 999.52,290.22 1020.95,297.08 1017.16,300.87 1031.30,315.01" fill="#ff0000"/></g>
<g class="a" font-size="16" fill="#000"><text x="51.5" y="414.0" text-anchor="end">0</text><text x="51.5" y="367.0" text-anchor="end">1</text><text x="51.5" y="319.0" text-anchor="end">2</text><text x="51.5" y="272.0" text-anchor="end">3</text><text x="51.5" y="225.0" text-anchor="end">4</text><text x="51.5" y="177.0" text-anchor="end">5</text><text x="51.5" y="130.0" text-anchor="end">6</text><text x="1027.5" y="414.0">0</text><text x="1027.5" y="367.0">5</text><text x="1027.5" y="319.0">10</text><text x="1027.5" y="272.0">15</text><text x="1027.5" y="225.0">20</text><text x="1027.5" y="177.0">25</text><text x="1027.5" y="130.0">30</text></g>
<text class="a" font-size="23" transform="translate(20.5,266.5) rotate(-90)" text-anchor="middle">Wave Height - Metres</text>
<text class="a" font-size="23" transform="translate(1059.5,264.5) rotate(90)" text-anchor="middle">Wind Speed - Knots</text>
<text class="t" font-size="26.4" font-stretch="condensed" style="font-stretch:condensed" x="533.5" y="29.8" text-anchor="middle">7 day wind &amp; wave forecast for Stratham</text>
<text class="t" font-size="16.8" x="129.1" y="58.9" text-anchor="middle">18-36°</text>
<text class="a" font-size="16.5" x="126.8" y="434.8" text-anchor="middle">Wednesday</text>
<text class="t" font-size="17.5" fill="#808080" x="129.6" y="458.8" text-anchor="middle">21st</text>
<text class="t" font-size="16.8" x="264.6" y="58.9" text-anchor="middle">20-30°</text>
<text class="a" font-size="16.5" x="265.8" y="434.8" text-anchor="middle">Thursday</text>
<text class="t" font-size="17.5" fill="#808080" x="266" y="458.8" text-anchor="middle">22nd</text>
<text class="t" font-size="16.8" x="402.3" y="58.9" text-anchor="middle">16-26°</text>
<text class="a" font-size="16.5" x="402.1" y="434.8" text-anchor="middle">Friday</text>
<text class="t" font-size="17.5" fill="#808080" x="402.8" y="458.8" text-anchor="middle">23rd</text>
<text class="t" font-size="16.8" x="539" y="58.9" text-anchor="middle">10-25°</text>
<text class="a" font-size="16.5" font-weight="bold" x="540" y="434.8" text-anchor="middle">Saturday</text>
<text class="t" font-size="17.5" fill="#808080" x="539" y="458.8" text-anchor="middle">24th</text>
<text class="t" font-size="16.8" x="675" y="58.9" text-anchor="middle">15-24°</text>
<text class="a" font-size="16.5" font-weight="bold" x="675.7" y="434.8" text-anchor="middle">Sunday</text>
<text class="t" font-size="17.5" fill="#808080" x="675.7" y="458.8" text-anchor="middle">25th</text>
<text class="t" font-size="16.8" x="812.3" y="58.9" text-anchor="middle">14-25°</text>
<text class="a" font-size="16.5" x="810.3" y="434.8" text-anchor="middle">Monday</text>
<text class="t" font-size="17.5" fill="#808080" x="812" y="458.8" text-anchor="middle">26th</text>
<text class="t" font-size="16.8" x="948.2" y="58.9" text-anchor="middle">11-28°</text>
<text class="a" font-size="16.5" x="948.8" y="434.8" text-anchor="middle">Tuesday</text>
<text class="t" font-size="17.5" fill="#808080" x="949" y="458.8" text-anchor="middle">27th</text>
<text class="a" font-size="11" fill="#9a9a9a" x="892.6" y="401.2" letter-spacing="0.06">www.seabreeze.com.au</text>
<g transform="translate(130.3,94.3)"><g fill="url(#rayG)" stroke="#b07a10" stroke-width="0.5" stroke-opacity="0.55"><polygon points="-3.6,-11.0 0,-26.8 3.6,-11.0" transform="rotate(0.0)"/><polygon points="-2.6,-11.0 0,-18.3 2.6,-11.0" transform="rotate(11.25)"/><polygon points="-3.4,-11.0 0,-22.3 3.4,-11.0" transform="rotate(22.5)"/><polygon points="-2.6,-11.0 0,-18.3 2.6,-11.0" transform="rotate(33.75)"/><polygon points="-3.6,-11.0 0,-26.8 3.6,-11.0" transform="rotate(45.0)"/><polygon points="-2.6,-11.0 0,-18.3 2.6,-11.0" transform="rotate(56.25)"/><polygon points="-3.4,-11.0 0,-22.3 3.4,-11.0" transform="rotate(67.5)"/><polygon points="-2.6,-11.0 0,-18.3 2.6,-11.0" transform="rotate(78.75)"/><polygon points="-3.6,-11.0 0,-26.8 3.6,-11.0" transform="rotate(90.0)"/><polygon points="-2.6,-11.0 0,-18.3 2.6,-11.0" transform="rotate(101.25)"/><polygon points="-3.4,-11.0 0,-22.3 3.4,-11.0" transform="rotate(112.5)"/><polygon points="-2.6,-11.0 0,-18.3 2.6,-11.0" transform="rotate(123.75)"/><polygon points="-3.6,-11.0 0,-26.8 3.6,-11.0" transform="rotate(135.0)"/><polygon points="-2.6,-11.0 0,-18.3 2.6,-11.0" transform="rotate(146.25)"/><polygon points="-3.4,-11.0 0,-22.3 3.4,-11.0" transform="rotate(157.5)"/><polygon points="-2.6,-11.0 0,-18.3 2.6,-11.0" transform="rotate(168.75)"/><polygon points="-3.6,-11.0 0,-26.8 3.6,-11.0" transform="rotate(180.0)"/><polygon points="-2.6,-11.0 0,-18.3 2.6,-11.0" transform="rotate(191.25)"/><polygon points="-3.4,-11.0 0,-22.3 3.4,-11.0" transform="rotate(202.5)"/><polygon points="-2.6,-11.0 0,-18.3 2.6,-11.0" transform="rotate(213.75)"/><polygon points="-3.6,-11.0 0,-26.8 3.6,-11.0" transform="rotate(225.0)"/><polygon points="-2.6,-11.0 0,-18.3 2.6,-11.0" transform="rotate(236.25)"/><polygon points="-3.4,-11.0 0,-22.3 3.4,-11.0" transform="rotate(247.5)"/><polygon points="-2.6,-11.0 0,-18.3 2.6,-11.0" transform="rotate(258.75)"/><polygon points="-3.6,-11.0 0,-26.8 3.6,-11.0" transform="rotate(270.0)"/><polygon points="-2.6,-11.0 0,-18.3 2.6,-11.0" transform="rotate(281.25)"/><polygon points="-3.4,-11.0 0,-22.3 3.4,-11.0" transform="rotate(292.5)"/><polygon points="-2.6,-11.0 0,-18.3 2.6,-11.0" transform="rotate(303.75)"/><polygon points="-3.6,-11.0 0,-26.8 3.6,-11.0" transform="rotate(315.0)"/><polygon points="-2.6,-11.0 0,-18.3 2.6,-11.0" transform="rotate(326.25)"/><polygon points="-3.4,-11.0 0,-22.3 3.4,-11.0" transform="rotate(337.5)"/><polygon points="-2.6,-11.0 0,-18.3 2.6,-11.0" transform="rotate(348.75)"/></g><circle r="15" fill="url(#sunG)" stroke="#d88a00" stroke-width="0.5" stroke-opacity="0.7"/></g>
<g transform="translate(266.3,94.3)"><g fill="url(#rayG)" stroke="#b07a10" stroke-width="0.5" stroke-opacity="0.55"><polygon points="-3.6,-11.0 0,-26.8 3.6,-11.0" transform="rotate(0.0)"/><polygon points="-2.6,-11.0 0,-18.3 2.6,-11.0" transform="rotate(11.25)"/><polygon points="-3.4,-11.0 0,-22.3 3.4,-11.0" transform="rotate(22.5)"/><polygon points="-2.6,-11.0 0,-18.3 2.6,-11.0" transform="rotate(33.75)"/><polygon points="-3.6,-11.0 0,-26.8 3.6,-11.0" transform="rotate(45.0)"/><polygon points="-2.6,-11.0 0,-18.3 2.6,-11.0" transform="rotate(56.25)"/><polygon points="-3.4,-11.0 0,-22.3 3.4,-11.0" transform="rotate(67.5)"/><polygon points="-2.6,-11.0 0,-18.3 2.6,-11.0" transform="rotate(78.75)"/><polygon points="-3.6,-11.0 0,-26.8 3.6,-11.0" transform="rotate(90.0)"/><polygon points="-2.6,-11.0 0,-18.3 2.6,-11.0" transform="rotate(101.25)"/><polygon points="-3.4,-11.0 0,-22.3 3.4,-11.0" transform="rotate(112.5)"/><polygon points="-2.6,-11.0 0,-18.3 2.6,-11.0" transform="rotate(123.75)"/><polygon points="-3.6,-11.0 0,-26.8 3.6,-11.0" transform="rotate(135.0)"/><polygon points="-2.6,-11.0 0,-18.3 2.6,-11.0" transform="rotate(146.25)"/><polygon points="-3.4,-11.0 0,-22.3 3.4,-11.0" transform="rotate(157.5)"/><polygon points="-2.6,-11.0 0,-18.3 2.6,-11.0" transform="rotate(168.75)"/><polygon points="-3.6,-11.0 0,-26.8 3.6,-11.0" transform="rotate(180.0)"/><polygon points="-2.6,-11.0 0,-18.3 2.6,-11.0" transform="rotate(191.25)"/><polygon points="-3.4,-11.0 0,-22.3 3.4,-11.0" transform="rotate(202.5)"/><polygon points="-2.6,-11.0 0,-18.3 2.6,-11.0" transform="rotate(213.75)"/><polygon points="-3.6,-11.0 0,-26.8 3.6,-11.0" transform="rotate(225.0)"/><polygon points="-2.6,-11.0 0,-18.3 2.6,-11.0" transform="rotate(236.25)"/><polygon points="-3.4,-11.0 0,-22.3 3.4,-11.0" transform="rotate(247.5)"/><polygon points="-2.6,-11.0 0,-18.3 2.6,-11.0" transform="rotate(258.75)"/><polygon points="-3.6,-11.0 0,-26.8 3.6,-11.0" transform="rotate(270.0)"/><polygon points="-2.6,-11.0 0,-18.3 2.6,-11.0" transform="rotate(281.25)"/><polygon points="-3.4,-11.0 0,-22.3 3.4,-11.0" transform="rotate(292.5)"/><polygon points="-2.6,-11.0 0,-18.3 2.6,-11.0" transform="rotate(303.75)"/><polygon points="-3.6,-11.0 0,-26.8 3.6,-11.0" transform="rotate(315.0)"/><polygon points="-2.6,-11.0 0,-18.3 2.6,-11.0" transform="rotate(326.25)"/><polygon points="-3.4,-11.0 0,-22.3 3.4,-11.0" transform="rotate(337.5)"/><polygon points="-2.6,-11.0 0,-18.3 2.6,-11.0" transform="rotate(348.75)"/></g><circle r="15" fill="url(#sunG)" stroke="#d88a00" stroke-width="0.5" stroke-opacity="0.7"/></g>
<path transform="translate(266.3,94.3)" d="M-5,14.4 C-9,14.4 -11.2,10 -11,5.6 C-10.8,1 -8.5,-3.2 -5,-3.2 C-3.5,-3.2 -2,-2.8 -1.2,-2.2 C0.5,-6 5,-7.6 9,-7.5 C14,-7.4 18.5,-6.5 20.5,-4.5 C21.5,-3.5 22.5,-2 23,-1.2 C26.5,-1 28.5,1.5 28.3,4.6 C28,8 26.5,10 24.5,10.5 C23.5,13 21.5,14.4 19,14.4 Z" fill="url(#cloudG)" stroke="#7a7a7a" stroke-width="0.7"/>
<g transform="translate(403,94.3)"><g fill="url(#rayG)" stroke="#b07a10" stroke-width="0.5" stroke-opacity="0.55"><polygon points="-3.6,-11.0 0,-26.8 3.6,-11.0" transform="rotate(0.0)"/><polygon points="-2.6,-11.0 0,-18.3 2.6,-11.0" transform="rotate(11.25)"/><polygon points="-3.4,-11.0 0,-22.3 3.4,-11.0" transform="rotate(22.5)"/><polygon points="-2.6,-11.0 0,-18.3 2.6,-11.0" transform="rotate(33.75)"/><polygon points="-3.6,-11.0 0,-26.8 3.6,-11.0" transform="rotate(45.0)"/><polygon points="-2.6,-11.0 0,-18.3 2.6,-11.0" transform="rotate(56.25)"/><polygon points="-3.4,-11.0 0,-22.3 3.4,-11.0" transform="rotate(67.5)"/><polygon points="-2.6,-11.0 0,-18.3 2.6,-11.0" transform="rotate(78.75)"/><polygon points="-3.6,-11.0 0,-26.8 3.6,-11.0" transform="rotate(90.0)"/><polygon points="-2.6,-11.0 0,-18.3 2.6,-11.0" transform="rotate(101.25)"/><polygon points="-3.4,-11.0 0,-22.3 3.4,-11.0" transform="rotate(112.5)"/><polygon points="-2.6,-11.0 0,-18.3 2.6,-11.0" transform="rotate(123.75)"/><polygon points="-3.6,-11.0 0,-26.8 3.6,-11.0" transform="rotate(135.0)"/><polygon points="-2.6,-11.0 0,-18.3 2.6,-11.0" transform="rotate(146.25)"/><polygon points="-3.4,-11.0 0,-22.3 3.4,-11.0" transform="rotate(157.5)"/><polygon points="-2.6,-11.0 0,-18.3 2.6,-11.0" transform="rotate(168.75)"/><polygon points="-3.6,-11.0 0,-26.8 3.6,-11.0" transform="rotate(180.0)"/><polygon points="-2.6,-11.0 0,-18.3 2.6,-11.0" transform="rotate(191.25)"/><polygon points="-3.4,-11.0 0,-22.3 3.4,-11.0" transform="rotate(202.5)"/><polygon points="-2.6,-11.0 0,-18.3 2.6,-11.0" transform="rotate(213.75)"/><polygon points="-3.6,-11.0 0,-26.8 3.6,-11.0" transform="rotate(225.0)"/><polygon points="-2.6,-11.0 0,-18.3 2.6,-11.0" transform="rotate(236.25)"/><polygon points="-3.4,-11.0 0,-22.3 3.4,-11.0" transform="rotate(247.5)"/><polygon points="-2.6,-11.0 0,-18.3 2.6,-11.0" transform="rotate(258.75)"/><polygon points="-3.6,-11.0 0,-26.8 3.6,-11.0" transform="rotate(270.0)"/><polygon points="-2.6,-11.0 0,-18.3 2.6,-11.0" transform="rotate(281.25)"/><polygon points="-3.4,-11.0 0,-22.3 3.4,-11.0" transform="rotate(292.5)"/><polygon points="-2.6,-11.0 0,-18.3 2.6,-11.0" transform="rotate(303.75)"/><polygon points="-3.6,-11.0 0,-26.8 3.6,-11.0" transform="rotate(315.0)"/><polygon points="-2.6,-11.0 0,-18.3 2.6,-11.0" transform="rotate(326.25)"/><polygon points="-3.4,-11.0 0,-22.3 3.4,-11.0" transform="rotate(337.5)"/><polygon points="-2.6,-11.0 0,-18.3 2.6,-11.0" transform="rotate(348.75)"/></g><circle r="15" fill="url(#sunG)" stroke="#d88a00" stroke-width="0.5" stroke-opacity="0.7"/></g>
<path transform="translate(403,94.3)" d="M-5,14.4 C-9,14.4 -11.2,10 -11,5.6 C-10.8,1 -8.5,-3.2 -5,-3.2 C-3.5,-3.2 -2,-2.8 -1.2,-2.2 C0.5,-6 5,-7.6 9,-7.5 C14,-7.4 18.5,-6.5 20.5,-4.5 C21.5,-3.5 22.5,-2 23,-1.2 C26.5,-1 28.5,1.5 28.3,4.6 C28,8 26.5,10 24.5,10.5 C23.5,13 21.5,14.4 19,14.4 Z" fill="url(#cloudG)" stroke="#7a7a7a" stroke-width="0.7"/>
<g transform="translate(540,94.3)"><g fill="url(#rayG)" stroke="#b07a10" stroke-width="0.5" stroke-opacity="0.55"><polygon points="-3.6,-11.0 0,-26.8 3.6,-11.0" transform="rotate(0.0)"/><polygon points="-2.6,-11.0 0,-18.3 2.6,-11.0" transform="rotate(11.25)"/><polygon points="-3.4,-11.0 0,-22.3 3.4,-11.0" transform="rotate(22.5)"/><polygon points="-2.6,-11.0 0,-18.3 2.6,-11.0" transform="rotate(33.75)"/><polygon points="-3.6,-11.0 0,-26.8 3.6,-11.0" transform="rotate(45.0)"/><polygon points="-2.6,-11.0 0,-18.3 2.6,-11.0" transform="rotate(56.25)"/><polygon points="-3.4,-11.0 0,-22.3 3.4,-11.0" transform="rotate(67.5)"/><polygon points="-2.6,-11.0 0,-18.3 2.6,-11.0" transform="rotate(78.75)"/><polygon points="-3.6,-11.0 0,-26.8 3.6,-11.0" transform="rotate(90.0)"/><polygon points="-2.6,-11.0 0,-18.3 2.6,-11.0" transform="rotate(101.25)"/><polygon points="-3.4,-11.0 0,-22.3 3.4,-11.0" transform="rotate(112.5)"/><polygon points="-2.6,-11.0 0,-18.3 2.6,-11.0" transform="rotate(123.75)"/><polygon points="-3.6,-11.0 0,-26.8 3.6,-11.0" transform="rotate(135.0)"/><polygon points="-2.6,-11.0 0,-18.3 2.6,-11.0" transform="rotate(146.25)"/><polygon points="-3.4,-11.0 0,-22.3 3.4,-11.0" transform="rotate(157.5)"/><polygon points="-2.6,-11.0 0,-18.3 2.6,-11.0" transform="rotate(168.75)"/><polygon points="-3.6,-11.0 0,-26.8 3.6,-11.0" transform="rotate(180.0)"/><polygon points="-2.6,-11.0 0,-18.3 2.6,-11.0" transform="rotate(191.25)"/><polygon points="-3.4,-11.0 0,-22.3 3.4,-11.0" transform="rotate(202.5)"/><polygon points="-2.6,-11.0 0,-18.3 2.6,-11.0" transform="rotate(213.75)"/><polygon points="-3.6,-11.0 0,-26.8 3.6,-11.0" transform="rotate(225.0)"/><polygon points="-2.6,-11.0 0,-18.3 2.6,-11.0" transform="rotate(236.25)"/><polygon points="-3.4,-11.0 0,-22.3 3.4,-11.0" transform="rotate(247.5)"/><polygon points="-2.6,-11.0 0,-18.3 2.6,-11.0" transform="rotate(258.75)"/><polygon points="-3.6,-11.0 0,-26.8 3.6,-11.0" transform="rotate(270.0)"/><polygon points="-2.6,-11.0 0,-18.3 2.6,-11.0" transform="rotate(281.25)"/><polygon points="-3.4,-11.0 0,-22.3 3.4,-11.0" transform="rotate(292.5)"/><polygon points="-2.6,-11.0 0,-18.3 2.6,-11.0" transform="rotate(303.75)"/><polygon points="-3.6,-11.0 0,-26.8 3.6,-11.0" transform="rotate(315.0)"/><polygon points="-2.6,-11.0 0,-18.3 2.6,-11.0" transform="rotate(326.25)"/><polygon points="-3.4,-11.0 0,-22.3 3.4,-11.0" transform="rotate(337.5)"/><polygon points="-2.6,-11.0 0,-18.3 2.6,-11.0" transform="rotate(348.75)"/></g><circle r="15" fill="url(#sunG)" stroke="#d88a00" stroke-width="0.5" stroke-opacity="0.7"/></g>
<path transform="translate(540,94.3)" d="M-5,14.4 C-9,14.4 -11.2,10 -11,5.6 C-10.8,1 -8.5,-3.2 -5,-3.2 C-3.5,-3.2 -2,-2.8 -1.2,-2.2 C0.5,-6 5,-7.6 9,-7.5 C14,-7.4 18.5,-6.5 20.5,-4.5 C21.5,-3.5 22.5,-2 23,-1.2 C26.5,-1 28.5,1.5 28.3,4.6 C28,8 26.5,10 24.5,10.5 C23.5,13 21.5,14.4 19,14.4 Z" fill="url(#cloudG)" stroke="#7a7a7a" stroke-width="0.7"/>
<g transform="translate(676.3,94.3)"><g fill="url(#rayG)" stroke="#b07a10" stroke-width="0.5" stroke-opacity="0.55"><polygon points="-3.6,-11.0 0,-26.8 3.6,-11.0" transform="rotate(0.0)"/><polygon points="-2.6,-11.0 0,-18.3 2.6,-11.0" transform="rotate(11.25)"/><polygon points="-3.4,-11.0 0,-22.3 3.4,-11.0" transform="rotate(22.5)"/><polygon points="-2.6,-11.0 0,-18.3 2.6,-11.0" transform="rotate(33.75)"/><polygon points="-3.6,-11.0 0,-26.8 3.6,-11.0" transform="rotate(45.0)"/><polygon points="-2.6,-11.0 0,-18.3 2.6,-11.0" transform="rotate(56.25)"/><polygon points="-3.4,-11.0 0,-22.3 3.4,-11.0" transform="rotate(67.5)"/><polygon points="-2.6,-11.0 0,-18.3 2.6,-11.0" transform="rotate(78.75)"/><polygon points="-3.6,-11.0 0,-26.8 3.6,-11.0" transform="rotate(90.0)"/><polygon points="-2.6,-11.0 0,-18.3 2.6,-11.0" transform="rotate(101.25)"/><polygon points="-3.4,-11.0 0,-22.3 3.4,-11.0" transform="rotate(112.5)"/><polygon points="-2.6,-11.0 0,-18.3 2.6,-11.0" transform="rotate(123.75)"/><polygon points="-3.6,-11.0 0,-26.8 3.6,-11.0" transform="rotate(135.0)"/><polygon points="-2.6,-11.0 0,-18.3 2.6,-11.0" transform="rotate(146.25)"/><polygon points="-3.4,-11.0 0,-22.3 3.4,-11.0" transform="rotate(157.5)"/><polygon points="-2.6,-11.0 0,-18.3 2.6,-11.0" transform="rotate(168.75)"/><polygon points="-3.6,-11.0 0,-26.8 3.6,-11.0" transform="rotate(180.0)"/><polygon points="-2.6,-11.0 0,-18.3 2.6,-11.0" transform="rotate(191.25)"/><polygon points="-3.4,-11.0 0,-22.3 3.4,-11.0" transform="rotate(202.5)"/><polygon points="-2.6,-11.0 0,-18.3 2.6,-11.0" transform="rotate(213.75)"/><polygon points="-3.6,-11.0 0,-26.8 3.6,-11.0" transform="rotate(225.0)"/><polygon points="-2.6,-11.0 0,-18.3 2.6,-11.0" transform="rotate(236.25)"/><polygon points="-3.4,-11.0 0,-22.3 3.4,-11.0" transform="rotate(247.5)"/><polygon points="-2.6,-11.0 0,-18.3 2.6,-11.0" transform="rotate(258.75)"/><polygon points="-3.6,-11.0 0,-26.8 3.6,-11.0" transform="rotate(270.0)"/><polygon points="-2.6,-11.0 0,-18.3 2.6,-11.0" transform="rotate(281.25)"/><polygon points="-3.4,-11.0 0,-22.3 3.4,-11.0" transform="rotate(292.5)"/><polygon points="-2.6,-11.0 0,-18.3 2.6,-11.0" transform="rotate(303.75)"/><polygon points="-3.6,-11.0 0,-26.8 3.6,-11.0" transform="rotate(315.0)"/><polygon points="-2.6,-11.0 0,-18.3 2.6,-11.0" transform="rotate(326.25)"/><polygon points="-3.4,-11.0 0,-22.3 3.4,-11.0" transform="rotate(337.5)"/><polygon points="-2.6,-11.0 0,-18.3 2.6,-11.0" transform="rotate(348.75)"/></g><circle r="15" fill="url(#sunG)" stroke="#d88a00" stroke-width="0.5" stroke-opacity="0.7"/></g>
<path transform="translate(676.3,94.3)" d="M-5,14.4 C-9,14.4 -11.2,10 -11,5.6 C-10.8,1 -8.5,-3.2 -5,-3.2 C-3.5,-3.2 -2,-2.8 -1.2,-2.2 C0.5,-6 5,-7.6 9,-7.5 C14,-7.4 18.5,-6.5 20.5,-4.5 C21.5,-3.5 22.5,-2 23,-1.2 C26.5,-1 28.5,1.5 28.3,4.6 C28,8 26.5,10 24.5,10.5 C23.5,13 21.5,14.4 19,14.4 Z" fill="url(#cloudG)" stroke="#7a7a7a" stroke-width="0.7"/>
<path transform="translate(670.8,106.3)" d="M0,-4.5 C1.5,-2 3.2,-0.5 3.2,1.4 C3.2,3.3 1.7,4.5 0,4.5 C-1.7,4.5 -3.2,3.3 -3.2,1.4 C-3.2,-0.5 -1.5,-2 0,-4.5 Z" fill="url(#dropG)" stroke="#1070b0" stroke-width="0.5"/><path transform="translate(683.8,106.3)" d="M0,-4.5 C1.5,-2 3.2,-0.5 3.2,1.4 C3.2,3.3 1.7,4.5 0,4.5 C-1.7,4.5 -3.2,3.3 -3.2,1.4 C-3.2,-0.5 -1.5,-2 0,-4.5 Z" fill="url(#dropG)" stroke="#1070b0" stroke-width="0.5"/><path transform="translate(698.3,106.3)" d="M0,-4.5 C1.5,-2 3.2,-0.5 3.2,1.4 C3.2,3.3 1.7,4.5 0,4.5 C-1.7,4.5 -3.2,3.3 -3.2,1.4 C-3.2,-0.5 -1.5,-2 0,-4.5 Z" fill="url(#dropG)" stroke="#1070b0" stroke-width="0.5"/><path transform="translate(677.3,116.3)" d="M0,-4.5 C1.5,-2 3.2,-0.5 3.2,1.4 C3.2,3.3 1.7,4.5 0,4.5 C-1.7,4.5 -3.2,3.3 -3.2,1.4 C-3.2,-0.5 -1.5,-2 0,-4.5 Z" fill="url(#dropG)" stroke="#1070b0" stroke-width="0.5"/><path transform="translate(690.8,116.3)" d="M0,-4.5 C1.5,-2 3.2,-0.5 3.2,1.4 C3.2,3.3 1.7,4.5 0,4.5 C-1.7,4.5 -3.2,3.3 -3.2,1.4 C-3.2,-0.5 -1.5,-2 0,-4.5 Z" fill="url(#dropG)" stroke="#1070b0" stroke-width="0.5"/>
<g transform="translate(813,94.3)"><g fill="url(#rayG)" stroke="#b07a10" stroke-width="0.5" stroke-opacity="0.55"><polygon points="-3.6,-11.0 0,-26.8 3.6,-11.0" transform="rotate(0.0)"/><polygon points="-2.6,-11.0 0,-18.3 2.6,-11.0" transform="rotate(11.25)"/><polygon points="-3.4,-11.0 0,-22.3 3.4,-11.0" transform="rotate(22.5)"/><polygon points="-2.6,-11.0 0,-18.3 2.6,-11.0" transform="rotate(33.75)"/><polygon points="-3.6,-11.0 0,-26.8 3.6,-11.0" transform="rotate(45.0)"/><polygon points="-2.6,-11.0 0,-18.3 2.6,-11.0" transform="rotate(56.25)"/><polygon points="-3.4,-11.0 0,-22.3 3.4,-11.0" transform="rotate(67.5)"/><polygon points="-2.6,-11.0 0,-18.3 2.6,-11.0" transform="rotate(78.75)"/><polygon points="-3.6,-11.0 0,-26.8 3.6,-11.0" transform="rotate(90.0)"/><polygon points="-2.6,-11.0 0,-18.3 2.6,-11.0" transform="rotate(101.25)"/><polygon points="-3.4,-11.0 0,-22.3 3.4,-11.0" transform="rotate(112.5)"/><polygon points="-2.6,-11.0 0,-18.3 2.6,-11.0" transform="rotate(123.75)"/><polygon points="-3.6,-11.0 0,-26.8 3.6,-11.0" transform="rotate(135.0)"/><polygon points="-2.6,-11.0 0,-18.3 2.6,-11.0" transform="rotate(146.25)"/><polygon points="-3.4,-11.0 0,-22.3 3.4,-11.0" transform="rotate(157.5)"/><polygon points="-2.6,-11.0 0,-18.3 2.6,-11.0" transform="rotate(168.75)"/><polygon points="-3.6,-11.0 0,-26.8 3.6,-11.0" transform="rotate(180.0)"/><polygon points="-2.6,-11.0 0,-18.3 2.6,-11.0" transform="rotate(191.25)"/><polygon points="-3.4,-11.0 0,-22.3 3.4,-11.0" transform="rotate(202.5)"/><polygon points="-2.6,-11.0 0,-18.3 2.6,-11.0" transform="rotate(213.75)"/><polygon points="-3.6,-11.0 0,-26.8 3.6,-11.0" transform="rotate(225.0)"/><polygon points="-2.6,-11.0 0,-18.3 2.6,-11.0" transform="rotate(236.25)"/><polygon points="-3.4,-11.0 0,-22.3 3.4,-11.0" transform="rotate(247.5)"/><polygon points="-2.6,-11.0 0,-18.3 2.6,-11.0" transform="rotate(258.75)"/><polygon points="-3.6,-11.0 0,-26.8 3.6,-11.0" transform="rotate(270.0)"/><polygon points="-2.6,-11.0 0,-18.3 2.6,-11.0" transform="rotate(281.25)"/><polygon points="-3.4,-11.0 0,-22.3 3.4,-11.0" transform="rotate(292.5)"/><polygon points="-2.6,-11.0 0,-18.3 2.6,-11.0" transform="rotate(303.75)"/><polygon points="-3.6,-11.0 0,-26.8 3.6,-11.0" transform="rotate(315.0)"/><polygon points="-2.6,-11.0 0,-18.3 2.6,-11.0" transform="rotate(326.25)"/><polygon points="-3.4,-11.0 0,-22.3 3.4,-11.0" transform="rotate(337.5)"/><polygon points="-2.6,-11.0 0,-18.3 2.6,-11.0" transform="rotate(348.75)"/></g><circle r="15" fill="url(#sunG)" stroke="#d88a00" stroke-width="0.5" stroke-opacity="0.7"/></g>
<path transform="translate(813,94.3)" d="M-5,14.4 C-9,14.4 -11.2,10 -11,5.6 C-10.8,1 -8.5,-3.2 -5,-3.2 C-3.5,-3.2 -2,-2.8 -1.2,-2.2 C0.5,-6 5,-7.6 9,-7.5 C14,-7.4 18.5,-6.5 20.5,-4.5 C21.5,-3.5 22.5,-2 23,-1.2 C26.5,-1 28.5,1.5 28.3,4.6 C28,8 26.5,10 24.5,10.5 C23.5,13 21.5,14.4 19,14.4 Z" fill="url(#cloudG)" stroke="#7a7a7a" stroke-width="0.7"/>
<g transform="translate(949,94.3)"><g fill="url(#rayG)" stroke="#b07a10" stroke-width="0.5" stroke-opacity="0.55"><polygon points="-3.6,-11.0 0,-26.8 3.6,-11.0" transform="rotate(0.0)"/><polygon points="-2.6,-11.0 0,-18.3 2.6,-11.0" transform="rotate(11.25)"/><polygon points="-3.4,-11.0 0,-22.3 3.4,-11.0" transform="rotate(22.5)"/><polygon points="-2.6,-11.0 0,-18.3 2.6,-11.0" transform="rotate(33.75)"/><polygon points="-3.6,-11.0 0,-26.8 3.6,-11.0" transform="rotate(45.0)"/><polygon points="-2.6,-11.0 0,-18.3 2.6,-11.0" transform="rotate(56.25)"/><polygon points="-3.4,-11.0 0,-22.3 3.4,-11.0" transform="rotate(67.5)"/><polygon points="-2.6,-11.0 0,-18.3 2.6,-11.0" transform="rotate(78.75)"/><polygon points="-3.6,-11.0 0,-26.8 3.6,-11.0" transform="rotate(90.0)"/><polygon points="-2.6,-11.0 0,-18.3 2.6,-11.0" transform="rotate(101.25)"/><polygon points="-3.4,-11.0 0,-22.3 3.4,-11.0" transform="rotate(112.5)"/><polygon points="-2.6,-11.0 0,-18.3 2.6,-11.0" transform="rotate(123.75)"/><polygon points="-3.6,-11.0 0,-26.8 3.6,-11.0" transform="rotate(135.0)"/><polygon points="-2.6,-11.0 0,-18.3 2.6,-11.0" transform="rotate(146.25)"/><polygon points="-3.4,-11.0 0,-22.3 3.4,-11.0" transform="rotate(157.5)"/><polygon points="-2.6,-11.0 0,-18.3 2.6,-11.0" transform="rotate(168.75)"/><polygon points="-3.6,-11.0 0,-26.8 3.6,-11.0" transform="rotate(180.0)"/><polygon points="-2.6,-11.0 0,-18.3 2.6,-11.0" transform="rotate(191.25)"/><polygon points="-3.4,-11.0 0,-22.3 3.4,-11.0" transform="rotate(202.5)"/><polygon points="-2.6,-11.0 0,-18.3 2.6,-11.0" transform="rotate(213.75)"/><polygon points="-3.6,-11.0 0,-26.8 3.6,-11.0" transform="rotate(225.0)"/><polygon points="-2.6,-11.0 0,-18.3 2.6,-11.0" transform="rotate(236.25)"/><polygon points="-3.4,-11.0 0,-22.3 3.4,-11.0" transform="rotate(247.5)"/><polygon points="-2.6,-11.0 0,-18.3 2.6,-11.0" transform="rotate(258.75)"/><polygon points="-3.6,-11.0 0,-26.8 3.6,-11.0" transform="rotate(270.0)"/><polygon points="-2.6,-11.0 0,-18.3 2.6,-11.0" transform="rotate(281.25)"/><polygon points="-3.4,-11.0 0,-22.3 3.4,-11.0" transform="rotate(292.5)"/><polygon points="-2.6,-11.0 0,-18.3 2.6,-11.0" transform="rotate(303.75)"/><polygon points="-3.6,-11.0 0,-26.8 3.6,-11.0" transform="rotate(315.0)"/><polygon points="-2.6,-11.0 0,-18.3 2.6,-11.0" transform="rotate(326.25)"/><polygon points="-3.4,-11.0 0,-22.3 3.4,-11.0" transform="rotate(337.5)"/><polygon points="-2.6,-11.0 0,-18.3 2.6,-11.0" transform="rotate(348.75)"/></g><circle r="15" fill="url(#sunG)" stroke="#d88a00" stroke-width="0.5" stroke-opacity="0.7"/></g>
<path transform="translate(949,94.3)" d="M-5,14.4 C-9,14.4 -11.2,10 -11,5.6 C-10.8,1 -8.5,-3.2 -5,-3.2 C-3.5,-3.2 -2,-2.8 -1.2,-2.2 C0.5,-6 5,-7.6 9,-7.5 C14,-7.4 18.5,-6.5 20.5,-4.5 C21.5,-3.5 22.5,-2 23,-1.2 C26.5,-1 28.5,1.5 28.3,4.6 C28,8 26.5,10 24.5,10.5 C23.5,13 21.5,14.4 19,14.4 Z" fill="url(#cloudG)" stroke="#7a7a7a" stroke-width="0.7"/>
</svg></body></html>
